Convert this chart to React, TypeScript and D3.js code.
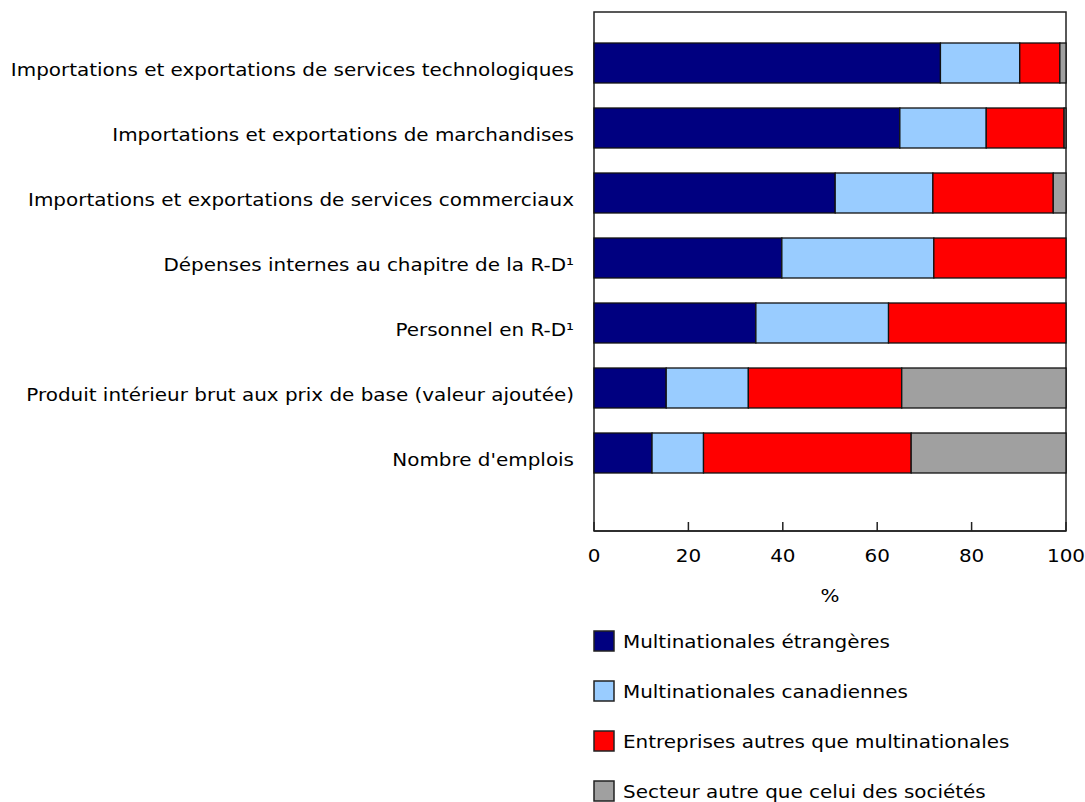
import { useEffect, useRef } from 'react';
import * as d3 from 'd3';

const categories = [
  "Importations et exportations de services technologiques",
  "Importations et exportations de marchandises",
  "Importations et exportations de services commerciaux",
  "Dépenses internes au chapitre de la R-D¹",
  "Personnel en R-D¹",
  "Produit intérieur brut aux prix de base (valeur ajoutée)",
  "Nombre d'emplois"
];

const seriesNames = [
  "Multinationales étrangères",
  "Multinationales canadiennes",
  "Entreprises autres que multinationales",
  "Secteur autre que celui des sociétés"
];
const seriesColors = ["#000080", "#99ccff", "#ff0000", "#a0a0a0"];

const foreignMne = [73.4, 64.8, 51.1, 39.8, 34.3, 15.3, 12.3];
const canadianMne = [16.8, 18.3, 20.7, 32.2, 28.1, 17.4, 10.9];
const nonMne = [8.5, 16.5, 25.5, 28.0, 37.6, 32.5, 44.0];
const nonCorporate = [1.3, 0.4, 2.7, 0.0, 0.0, 34.8, 32.8];

const xTicks = [0, 20, 40, 60, 80, 100];

const FONT = "'DejaVu Sans', Verdana, sans-serif";
const FS = "17.5px";
const SX = 1.14; // le texte de la source est un peu étiré en largeur

export default function App() {
  const svgRef = useRef<SVGSVGElement>(null);

  useEffect(() => {
    const svg = d3.select(svgRef.current);
    svg.selectAll("*").remove();

    const width = 1085;
    const height = 802;
    const left = 594, right = 1066, top = 12, bottom = 531;

    svg.attr("width", width).attr("height", height);

    const rows = categories.map((c, i) => ({
      category: c,
      s0: foreignMne[i],
      s1: canadianMne[i],
      s2: nonMne[i],
      s3: nonCorporate[i]
    }));

    const stack = d3.stack<any>().keys(["s0", "s1", "s2", "s3"]);
    const layers = stack(rows);

    const x = d3.scaleLinear().domain([0, 100]).range([left, right]);
    const y = d3.scaleBand<string>()
      .domain(categories)
      .range([43, 43 + 6 * 65 + 40])
      .paddingInner(25 / 65)
      .paddingOuter(0);

    // cadre
    svg.append("rect")
      .attr("x", left).attr("y", top)
      .attr("width", right - left).attr("height", bottom - top)
      .attr("fill", "white")
      .attr("stroke", "#222")
      .attr("stroke-width", 1.5);

    // barres
    layers.forEach((layer, k) => {
      svg.append("g")
        .selectAll("rect")
        .data(layer.filter(d => d[1] - d[0] > 0))
        .enter()
        .append("rect")
        .attr("x", d => x(d[0]))
        .attr("y", d => y(d.data.category)!)
        .attr("width", d => x(d[1]) - x(d[0]))
        .attr("height", y.bandwidth())
        .attr("fill", seriesColors[k])
        .attr("stroke", "#111")
        .attr("stroke-width", 1.3);
    });

    // étiquettes des catégories
    svg.append("g")
      .selectAll("text")
      .data(categories)
      .enter()
      .append("text")
      .attr("transform", d => `translate(${left - 20}, ${y(d)! + y.bandwidth() / 2 + 7}) scale(${SX}, 1)`)
      .attr("text-anchor", "end")
      .attr("dominant-baseline", "central")
      .style("font-family", FONT)
      .style("font-size", FS)
      .attr("fill", "#000")
      .text(d => d);

    // axe x
    svg.append("line")
      .attr("x1", left).attr("x2", right)
      .attr("y1", bottom).attr("y2", bottom)
      .attr("stroke", "#222").attr("stroke-width", 1.5);

    const tg = svg.append("g");
    tg.selectAll("line")
      .data(xTicks)
      .enter()
      .append("line")
      .attr("x1", d => x(d)).attr("x2", d => x(d))
      .attr("y1", bottom - 9).attr("y2", bottom)
      .attr("stroke", "#222").attr("stroke-width", 1.5);
    tg.selectAll("text")
      .data(xTicks)
      .enter()
      .append("text")
      .attr("transform", d => `translate(${x(d)}, 556) scale(${SX}, 1)`)
      .attr("text-anchor", "middle")
      .attr("dominant-baseline", "central")
      .style("font-family", FONT)
      .style("font-size", FS)
      .text(d => d);

    svg.append("text")
      .attr("transform", `translate(${(left + right) / 2}, 596) scale(${SX}, 1)`)
      .attr("text-anchor", "middle")
      .attr("dominant-baseline", "central")
      .style("font-family", FONT)
      .style("font-size", FS)
      .text("%");

    // légende
    const lg = svg.append("g")
      .selectAll("g")
      .data(seriesNames)
      .enter()
      .append("g")
      .attr("transform", (d, i) => `translate(594, ${631 + i * 50})`);
    lg.append("rect")
      .attr("width", 20).attr("height", 20)
      .attr("fill", (d, i) => seriesColors[i])
      .attr("stroke", "#222")
      .attr("stroke-width", 1.5);
    lg.append("text")
      .attr("transform", `translate(29, 11) scale(${SX}, 1)`)
      .attr("dominant-baseline", "central")
      .style("font-family", FONT)
      .style("font-size", FS)
      .text(d => d);
  }, []);

  return (
    <div style={{ position: "absolute", left: 0, top: 0 }}>
      <svg ref={svgRef}></svg>
    </div>
  );
}
